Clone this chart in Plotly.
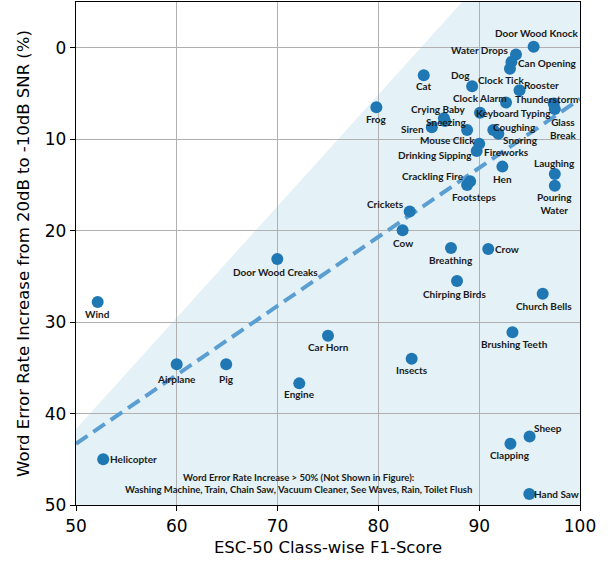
import plotly.graph_objects as go

# ---- data ----
names = ["Door Wood Knock", "Water Drops", "Can Opening", "Clock Tick", "Dog", "Cat",
         "Rooster", "Clock Alarm", "Thunderstorm", "Glass\nBreak", "Frog", "Keyboard Typing",
         "Crying Baby", "Sneezing", "Siren", "Mouse Click", "Coughing", "Snoring",
         "Fireworks", "Drinking Sipping", "Hen", "Laughing", "Pouring\nWater",
         "Crackling Fire", "Footsteps", "Crickets", "Cow", "Breathing", "Crow",
         "Chirping Birds", "Church Bells", "Brushing Teeth", "Door Wood Creaks", "Wind",
         "Airplane", "Pig", "Engine", "Car Horn", "Insects", "Sheep", "Clapping",
         "Hand Saw", "Helicopter"]
f1 = [95.4, 93.65, 93.2, 93.05, 89.3, 84.5,
      94.0, 92.66, 97.4, 97.5, 79.8, 90.08,
      86.5, 86.6, 85.3, 88.8, 91.4, 91.9,
      90.0, 89.75, 92.3, 97.5, 97.5,
      89.1, 88.8, 83.1, 82.4, 87.2, 90.9,
      87.8, 96.3, 93.3, 69.97, 52.15,
      59.99, 64.9, 72.15, 75.0, 83.3, 95.0, 93.1,
      94.97, 52.7]
wer = [-0.1, 0.75, 1.55, 2.3, 4.2, 3.0,
       4.65, 6.0, 6.1, 6.7, 6.5, 7.1,
       7.7, 8.0, 8.7, 9.0, 9.0, 9.4,
       10.5, 11.3, 13.0, 13.8, 15.1,
       14.6, 15.0, 17.9, 19.95, 21.9, 22.0,
       25.5, 26.9, 31.1, 23.1, 27.8,
       34.6, 34.6, 36.7, 31.5, 34.0, 42.5, 43.3,
       48.8, 45.0]

# regression (dashed) line end points
fit_x = [50, 100]
fit_y = [43.3, 5.6]

# shaded region polygon
shade_x = [50, 88.3, 100, 100, 50]
shade_y = [41.7, -5, -5, 50, 50]

x_ticks = [50, 60, 70, 80, 90, 100]
y_ticks = [0, 10, 20, 30, 40, 50]

note_lines = ["Word Error Rate Increase > 50% (Not Shown in Figure):",
              "Washing Machine, Train, Chain Saw, Vacuum Cleaner, See Waves, Rain, Toilet Flush"]

# label offsets in pixels (dx right, dy down) -- styling only
label_offsets = {
    "Door Wood Knock": (3, -14), "Water Drops": (-36, -5), "Can Opening": (36, 1),
    "Clock Tick": (-9, 11), "Dog": (-12, -11), "Cat": (0, 11), "Rooster": (22, -5),
    "Clock Alarm": (-26, -5), "Thunderstorm": (-7, -5), "Glass\nBreak": (8, 19),
    "Frog": (0, 12), "Keyboard Typing": (33, 0), "Crying Baby": (-5, -9),
    "Sneezing": (1, 1), "Siren": (-19, 2), "Mouse Click": (-20, 10),
    "Coughing": (21, -3), "Snoring": (22, 6), "Fireworks": (27, 8),
    "Drinking Sipping": (-42, 4), "Hen": (0, 12), "Laughing": (0, -11),
    "Pouring\nWater": (0, 18), "Crackling Fire": (-37, -5), "Footsteps": (7, 12),
    "Crickets": (-24, -7), "Cow": (0, 13), "Breathing": (0, 12), "Crow": (19, 0),
    "Chirping Birds": (-3, 13), "Church Bells": (1, 12), "Brushing Teeth": (2, 12),
    "Door Wood Creaks": (-2, 13), "Wind": (0, 12), "Airplane": (0, 15), "Pig": (0, 15),
    "Engine": (0, 11), "Car Horn": (0, 11), "Insects": (0, 11), "Sheep": (18, -8),
    "Clapping": (0, 11), "Hand Saw": (27, 0), "Helicopter": (30, 0),
}

fig = go.Figure()

# shaded region as a shape below gridlines
path = "M " + " L ".join(f"{x},{y}" for x, y in zip(shade_x, shade_y)) + " Z"
fig.add_shape(type="path", path=path, xref="x", yref="y",
              fillcolor="#e4f1f6", line=dict(width=0), layer="below")

fig.add_trace(go.Scatter(x=fit_x, y=fit_y, mode="lines",
                         line=dict(color="#5b9fd2", width=4, dash="14px,7px"),
                         hoverinfo="skip", showlegend=False))

fig.add_trace(go.Scatter(x=f1, y=wer, mode="markers",
                         marker=dict(color="#1f77b4", size=12, line=dict(width=0)),
                         showlegend=False))

label_font = dict(family="Lato, Roboto, sans-serif", size=10, color="#1a1a1a", weight="bold")
for n, x, y in zip(names, f1, wer):
    dx, dy = label_offsets[n]
    fig.add_annotation(x=x, y=y, xref="x", yref="y", text=n.replace("\n", "<br>"),
                       showarrow=False, xshift=dx, yshift=-dy, font=label_font,
                       align="center")

fig.add_annotation(x=72.1, y=47.6, xref="x", yref="y",
                   text="<br>".join(note_lines), showarrow=False,
                   font=dict(family="Lato, Roboto, sans-serif", size=9.5, color="#1a1a1a", weight="bold"),
                   align="center")

axis_common = dict(showline=True, mirror=True, linecolor="black", linewidth=1.3,
                   ticks="outside", ticklen=5, tickwidth=1.2, tickcolor="black",
                   showgrid=True, gridcolor="#b0b0b0", gridwidth=1.2, zeroline=False,
                   tickfont=dict(family="DejaVu Sans", size=17, color="black"),
                   automargin=False)

fig.update_xaxes(range=[50, 100], tickvals=x_ticks, **axis_common,
                 title=dict(text="ESC-50 Class-wise F1-Score",
                            font=dict(family="DejaVu Sans", size=16.5, color="black"),
                            standoff=6))
fig.update_yaxes(range=[50, -5], tickvals=y_ticks, **axis_common,
                 title=dict(text="Word Error Rate Increase from 20dB to -10dB SNR (%)",
                            font=dict(family="DejaVu Sans", size=16.5, color="black"),
                            standoff=11))

fig.update_layout(width=608, height=563,
                  margin=dict(l=76, r=28, t=2, b=58),
                  plot_bgcolor="white", paper_bgcolor="white")

fig.write_html("out.html", config={"displayModeBar": False},
               post_script="document.body.style.margin='0';")
